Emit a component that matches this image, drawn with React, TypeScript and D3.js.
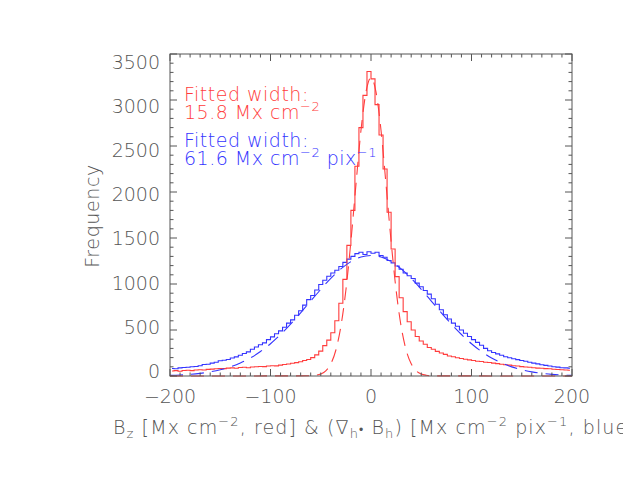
import React from 'react';
import * as d3 from 'd3';

// histogram bin centres (bin width 4), shared by both series
const binCenters = d3.range(-198, 200, 4);

// B_z histogram (red)
const bzCounts = [
  55, 58, 52, 60, 62, 58, 65, 68, 66, 72, 75, 78, 82, 80, 86, 88, 85, 92, 95, 90,
  98, 100, 104, 102, 108, 112, 110, 118, 125, 130, 138, 145, 155, 168, 180, 200, 230, 270, 330, 390,
  470, 600, 790, 1050, 1420, 1800, 2280, 2700, 3050, 3310, 3230, 2950, 2620, 2250, 1780, 1380, 1080, 850, 700, 590,
  500, 430, 380, 345, 310, 290, 268, 250, 235, 218, 210, 198, 190, 182, 175, 168, 160, 158, 150, 146,
  140, 135, 128, 122, 118, 112, 108, 102, 98, 95, 90, 86, 84, 80, 78, 74, 70, 68, 65, 62,
];

// div_h B_h histogram (blue)
const divCounts = [
  82, 78, 88, 92, 95, 100, 104, 112, 125, 128, 140, 150, 165, 172, 180, 195, 208, 225, 245, 262,
  290, 315, 340, 360, 395, 425, 460, 490, 530, 575, 610, 660, 710, 770, 830, 875, 935, 995, 1040, 1085,
  1120, 1150, 1190, 1235, 1270, 1300, 1330, 1345, 1320, 1350, 1335, 1345, 1310, 1290, 1255, 1230, 1195, 1160, 1120, 1090,
  1060, 1010, 970, 930, 890, 840, 780, 720, 665, 620, 575, 540, 500, 465, 430, 395, 365, 335, 300, 275,
  255, 240, 225, 210, 198, 188, 178, 168, 160, 150, 140, 132, 122, 115, 108, 100, 96, 90, 88, 84,
];

// fitted curves (dashed)
const bzFitX = [-200, -60, -55, -50, -45, -40, -35, -30, -25, -20, -15, -10, -5, 0, 5, 10, 15, 20, 25, 30, 35, 40, 45, 50, 55, 60, 200];
const bzFitY = [0, 2, 8, 22, 56, 132, 280, 538, 932, 1463, 2077, 2668, 3085, 3245, 3085, 2668, 2077, 1463, 932, 538, 280, 132, 56, 22, 8, 2, 0];
const divFitX = [-200, -190, -180, -170, -160, -150, -140, -130, -120, -110, -100, -90, -80, -70, -60, -50, -40, -30, -20, -10, 0,
  10, 20, 30, 40, 50, 60, 70, 80, 90, 100, 110, 120, 130, 140, 150, 160, 170, 180, 190, 200];
const divFitY = [7, 11, 18, 29, 45, 68, 99, 141, 196, 266, 351, 451, 564, 687, 815, 942, 1061, 1164, 1243, 1293, 1310,
  1293, 1243, 1164, 1061, 942, 815, 687, 564, 451, 351, 266, 196, 141, 99, 68, 45, 29, 18, 11, 7];

const xTicks = [-200, -100, 0, 100, 200];
const yTicks = [0, 500, 1000, 1500, 2000, 2500, 3000, 3500];

const W = 623;
const H = 485;
const plot = { left: 170, right: 572, top: 54, bottom: 376 };
const axisColor = '#555555';
const red = '#ff3c3c';
const blue = '#3434ff';
const font = '"DejaVu Sans", sans-serif';
const fw = 200;

const App = () => {
  const x = d3.scaleLinear().domain([-200, 200]).range([plot.left, plot.right]);
  const y = d3.scaleLinear().domain([0, 3500]).range([plot.bottom, plot.top]);
  // y tick labels sit slightly inside the frame ends in the original
  const yLab = d3.scaleLinear().domain([0, 3500]).range([371, 61.5]);

  const step = d3.line<number>().x((d, i) => x(binCenters[i])).y((d) => y(d)).curve(d3.curveStep);
  const smooth = d3.line<[number, number]>().x((d) => x(d[0])).y((d) => y(d[1])).curve(d3.curveMonotoneX);

  const xMinor = d3.range(-200, 201, 10);
  const yMinor = d3.range(0, 3501, 100);
  const supSize = 13;

  return (
    <svg width={W} height={H} style={{ position: 'absolute', left: 0, top: 0, background: '#fff' }}
      fontFamily={font} fontWeight={fw}>
      <defs>
        <clipPath id="plotArea">
          <rect x={plot.left} y={plot.top} width={plot.right - plot.left} height={plot.bottom - plot.top + 1} />
        </clipPath>
      </defs>

      {/* data */}
      <g clipPath="url(#plotArea)" fill="none" strokeWidth={1.1}>
        <path d={step(divCounts) ?? ''} stroke={blue} />
        <path d={step(bzCounts) ?? ''} stroke={red} />
        <path d={smooth(divFitX.map((v, i) => [v, divFitY[i]])) ?? ''} stroke={blue} strokeDasharray="13 8" />
        <path d={smooth(bzFitX.map((v, i) => [v, bzFitY[i]])) ?? ''} stroke={red} strokeDasharray="13 8" />
      </g>

      {/* frame + ticks */}
      <g stroke={axisColor} strokeWidth={1} fill="none">
        <rect x={plot.left} y={plot.top} width={plot.right - plot.left} height={plot.bottom - plot.top} />
        {xMinor.map((v) => {
          const len = v % 100 === 0 ? 7 : 3.5;
          return (
            <g key={'x' + v}>
              <line x1={x(v)} x2={x(v)} y1={plot.bottom} y2={plot.bottom - len} />
              <line x1={x(v)} x2={x(v)} y1={plot.top} y2={plot.top + len} />
            </g>
          );
        })}
        {yMinor.map((v) => {
          const len = v % 500 === 0 ? 7 : 3.5;
          return (
            <g key={'y' + v}>
              <line x1={plot.left} x2={plot.left + len} y1={y(v)} y2={y(v)} />
              <line x1={plot.right} x2={plot.right - len} y1={y(v)} y2={y(v)} />
            </g>
          );
        })}
      </g>

      {/* tick labels */}
      <g fill={axisColor} fontSize={19}>
        {xTicks.map((v) => (
          <text key={'xl' + v} x={x(v)} y={403} textAnchor="middle">
            {v < 0 ? '\u2212' + Math.abs(v) : v}
          </text>
        ))}
        {yTicks.map((v) => (
          <text key={'yl' + v} x={160} y={yLab(v) + 7} textAnchor="end">
            {v}
          </text>
        ))}
      </g>

      {/* axis titles */}
      <text x={113} y={434} fill={axisColor} fontSize={19} letterSpacing={1.1}>
        B<tspan fontSize={supSize} dy={4}>z</tspan>
        <tspan dy={-4}> [Mx cm</tspan>
        <tspan fontSize={supSize} dy={-8}>{'\u22122'}</tspan>
        <tspan dy={8}>, red] &amp; (&#8711;</tspan>
        <tspan fontSize={supSize} dy={4}>h</tspan>
        <tspan dy={-4} fontSize={12}>{'\u2022'}</tspan>
        <tspan> B</tspan>
        <tspan fontSize={supSize} dy={4}>h</tspan>
        <tspan dy={-4}>) [Mx cm</tspan>
        <tspan fontSize={supSize} dy={-8}>{'\u22122'}</tspan>
        <tspan dy={8}> pix</tspan>
        <tspan fontSize={supSize} dy={-8}>{'\u22121'}</tspan>
        <tspan dy={8}>, blue]</tspan>
      </text>
      <text transform="translate(99,216) rotate(-90)" fill={axisColor} fontSize={19} textAnchor="middle"
        letterSpacing={0.6}>
        Frequency
      </text>

      {/* fit annotations */}
      <g fontSize={19} letterSpacing={0.5}>
        <text x={184} y={101} fill={red}>
          Fitted width:
          <tspan x={184} dy={18}>15.8 Mx cm</tspan>
          <tspan fontSize={supSize} dy={-8}>{'\u22122'}</tspan>
        </text>
        <text x={184} y={147} fill={blue}>
          Fitted width:
          <tspan x={184} dy={18}>61.6 Mx cm</tspan>
          <tspan fontSize={supSize} dy={-8}>{'\u22122'}</tspan>
          <tspan dy={8}> pix</tspan>
          <tspan fontSize={supSize} dy={-8}>{'\u22121'}</tspan>
        </text>
      </g>
    </svg>
  );
};

export default App;
